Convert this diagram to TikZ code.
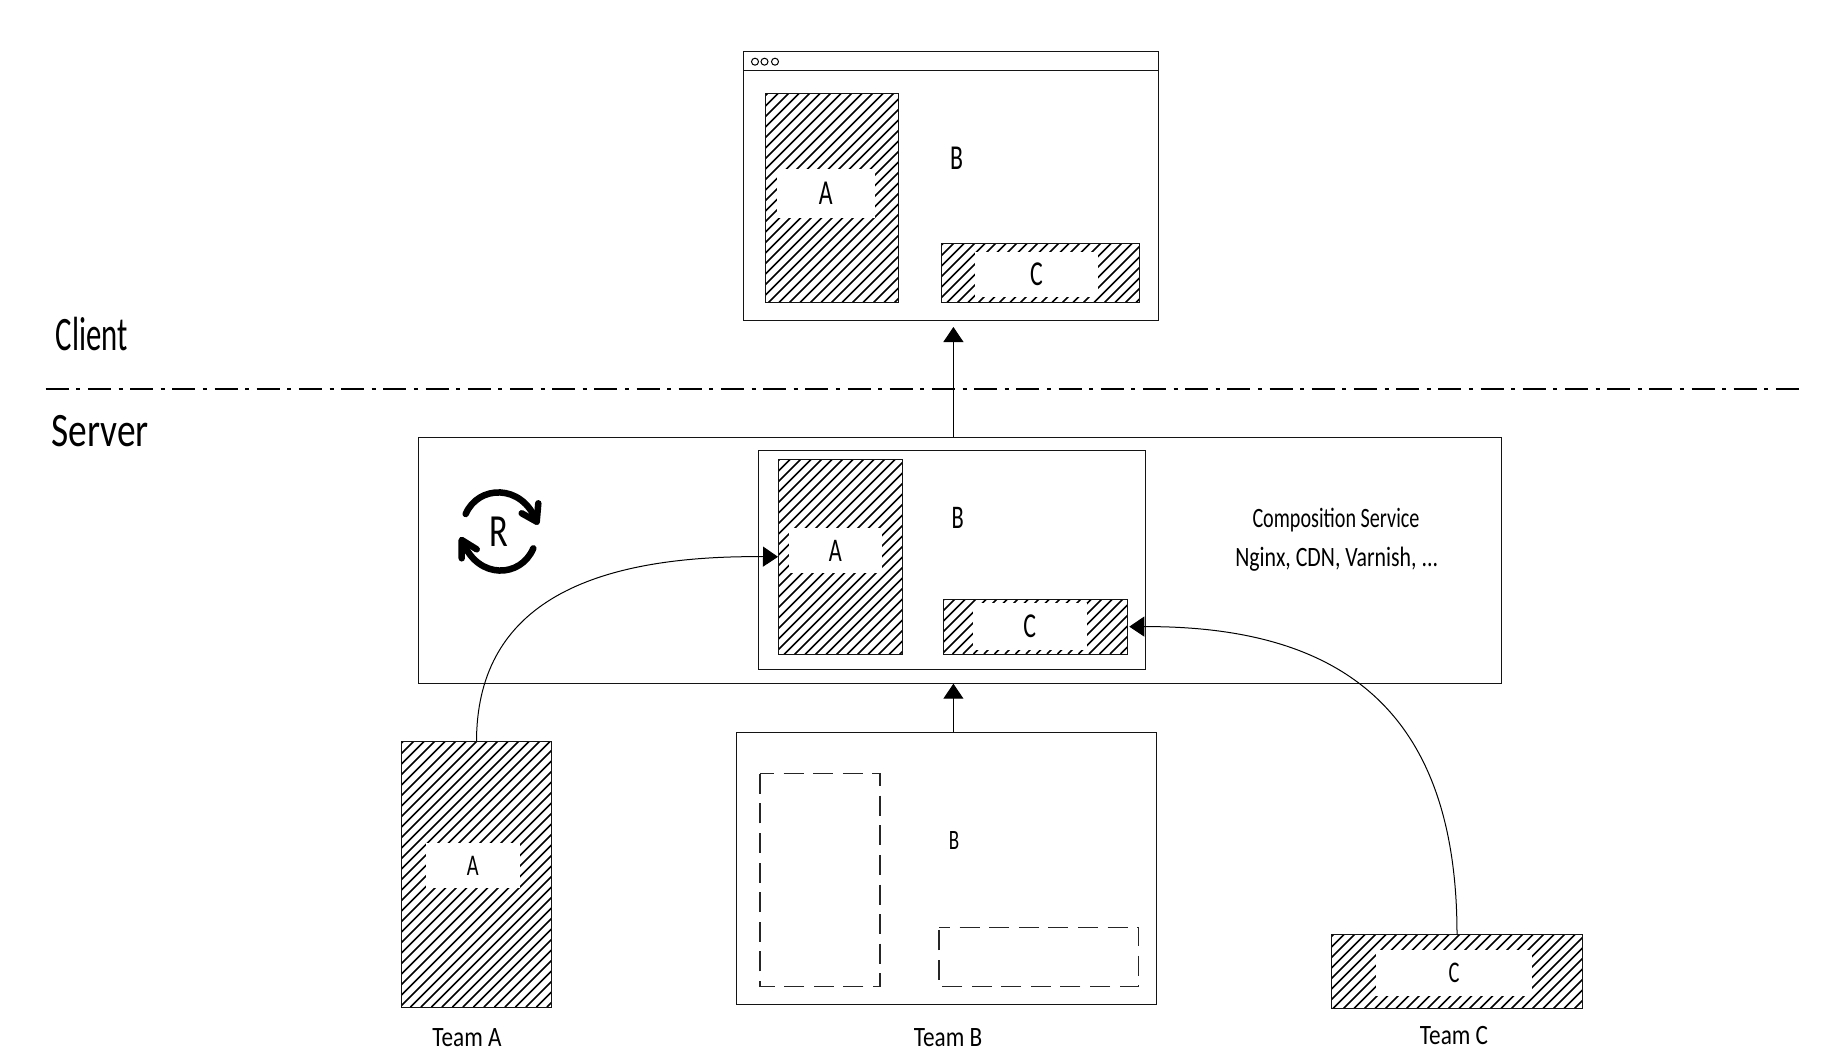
\documentclass[tikz,border=0pt]{standalone}
\usepackage{fontspec}
\usepackage{graphicx}
\setmainfont{Carlito}
\usetikzlibrary{arrows.meta}
\newcommand\hwx[3]{\scalebox{#1}[1]{\fontsize{#2}{#2}\selectfont #3}}
\newcommand\hw[2]{\hwx{.68}{#1}{#2}}
\newcommand\bx[6]{\node[#1,minimum width={(#4-#2)*1pt},minimum height={(#5-#3)*1pt}] (#6) at ({(#2+#4)/2},{(#3+#5)/2}) {};}
\newcommand\wbx[7]{\node[whitebox,minimum width={(#4-#2)*1pt},minimum height={(#5-#3)*1pt}] (#1) at ({(#2+#4)/2},{(#3+#5)/2}) {\hw{#6}{#7}};}
% a hatched box: 45 degree lines clipped to the box, then the outline as a named node
\newcommand\hbx[5]{%
  \begin{scope}
    \clip (#1,#2) rectangle (#3,#4);
    \pgfmathtruncatemacro\kmin{(#1+#2)/10.5}
    \pgfmathtruncatemacro\kmax{(#3+#4)/10.5+1}
    \foreach \k in {\kmin,...,\kmax}{\draw[hatchline] ({\k*10.5-#4},#4) -- ({\k*10.5-#2},#2);}
  \end{scope}
  \bx{hatchbox}{#1}{#2}{#3}{#4}{#5}}
\tikzset{
  base/.style={rectangle,inner sep=0pt,outer sep=0pt},
  plainbox/.style={base,draw=black!92,line width=1pt,fill=white},
  hatchbox/.style={base,draw=black!92,line width=1pt},
  hatchline/.style={draw=black,line width=1.6pt},
  whitebox/.style={base,fill=white},
  slotbox/.style={base},
  dashline/.style={draw=black!85,line width=1.1pt,dash pattern=on 20pt off 9.6pt},
  label/.style={base,text=black},
  dot/.style={circle,draw=black,line width=1pt,minimum size=7pt,inner sep=0pt,outer sep=0pt},
  conn/.style={draw=black,line width=1pt,-{Triangle[length=15pt,width=20pt]}},
  refresh/.style={draw=black,line width=6.5pt,line cap=round,line join=round},
}
\begin{document}
\begin{tikzpicture}[x=1pt,y=-1pt]
\useasboundingbox (0,0) rectangle (1831,1059);
% browser
\bx{plainbox}{743.5}{52}{1158}{320}{browser}
\bx{plainbox}{743.5}{52}{1158}{70.5}{header}
\node[dot] (d1) at (755,61.7) {};
\node[dot] (d2) at (764.5,61.7) {};
\node[dot] (d3) at (775,61.7) {};
\hbx{765.5}{93.3}{898.7}{302.3}{brA}
\wbx{brAw}{776.7}{168.7}{875}{217.7}{35}{A}
\hbx{941.3}{243.3}{1139.3}{302.3}{brC}
\wbx{brCw}{975}{251.7}{1098}{297.3}{35}{C}
\node[label] (brB) at (956.7,158) {\hw{35}{B}};
% side labels
\node[label] (client) at (91.7,334) {\hwx{.64}{48}{Client}};
\node[label] (serverlab) at (100,431) {\hwx{.78}{48}{Server}};
\coordinate (dashL) at (45.7,389);
\coordinate (dashR) at (1799,389);
\draw[line width=1.5pt,dash pattern=on 23pt off 7.6pt on 4pt off 7.6pt] (dashL) -- (dashR);
% server
\bx{plainbox}{418}{437}{1501.3}{683.7}{server}
\bx{plainbox}{758.3}{450.3}{1145.7}{669.3}{inner}
\hbx{778}{459.3}{902.7}{654.3}{inA}
\wbx{inAw}{789}{527.7}{881.7}{573.3}{33}{A}
\hbx{943.3}{599.3}{1127.3}{654}{inC}
\wbx{inCw}{972.7}{603.3}{1086.7}{650}{35}{C}
\node[label] (inB) at (957.7,518.3) {\hw{33}{B}};
\node[label] (comp) at (1336,520) {\hwx{.72}{28}{Composition Service}};
\node[label] (tech) at (1336.7,559) {\hwx{.78}{28}{Nginx, CDN, Varnish, ...}};
% refresh icon
\node[label] (R) at (499,532) {\hwx{.75}{46}{R}};
\draw[refresh] (465.7,514) .. controls (478,485) and (522,483) .. (536.7,521.7);
\draw[refresh] (538.3,503.3) -- (536.7,521.7) -- (521.7,513.3);
\draw[refresh] (533.3,548.3) .. controls (521,578) and (478,580) .. (463,542);
\draw[refresh] (461.7,558.3) -- (461.7,540) -- (476.7,549.3);
% teams
\hbx{401.3}{741}{551.7}{1007}{teamA}
\wbx{teamAw}{425.7}{842.7}{520}{888.3}{30}{A}
\node[label] (teamAlab) at (467,1038) {\hwx{.83}{28}{Team A}};
\bx{plainbox}{736.7}{732}{1156.7}{1004.3}{teamB}
\bx{slotbox}{760}{773.7}{880}{986.3}{slotA}
\bx{slotbox}{939}{927.7}{1138.7}{986.3}{slotC}
\draw[dashline,dash phase=6pt] (slotA.north west) -- (slotA.north east) -- (slotA.south east) -- (slotA.south west) -- cycle;
\draw[dashline,dash phase=9pt] (slotC.north west) -- (slotC.north east) -- (slotC.south east) -- (slotC.south west) -- cycle;
\node[label] (teamBB) at (954,840.7) {\hw{28}{B}};
\node[label] (teamBlab) at (948,1038) {\hwx{.83}{28}{Team B}};
\hbx{1331.7}{934.3}{1582.3}{1008.3}{teamC}
\wbx{teamCw}{1375.7}{950}{1532.3}{995.7}{30}{C}
\node[label] (teamClab) at (1454,1035.7) {\hwx{.83}{28}{Team C}};
% connectors
\coordinate (axis) at (953.4,0);
\draw[conn,shorten >=7pt] (axis |- server.north) -- (axis |- browser.south);
\draw[conn] (axis |- teamB.north) -- (axis |- server.south);
\draw[conn] (teamA.north) .. controls (477,610) and (580,555) .. (inA.west);
\draw[conn,shorten >=2pt] (teamC.north) .. controls (1457,700) and (1330,626) .. (inC.east);
\end{tikzpicture}
\end{document}
